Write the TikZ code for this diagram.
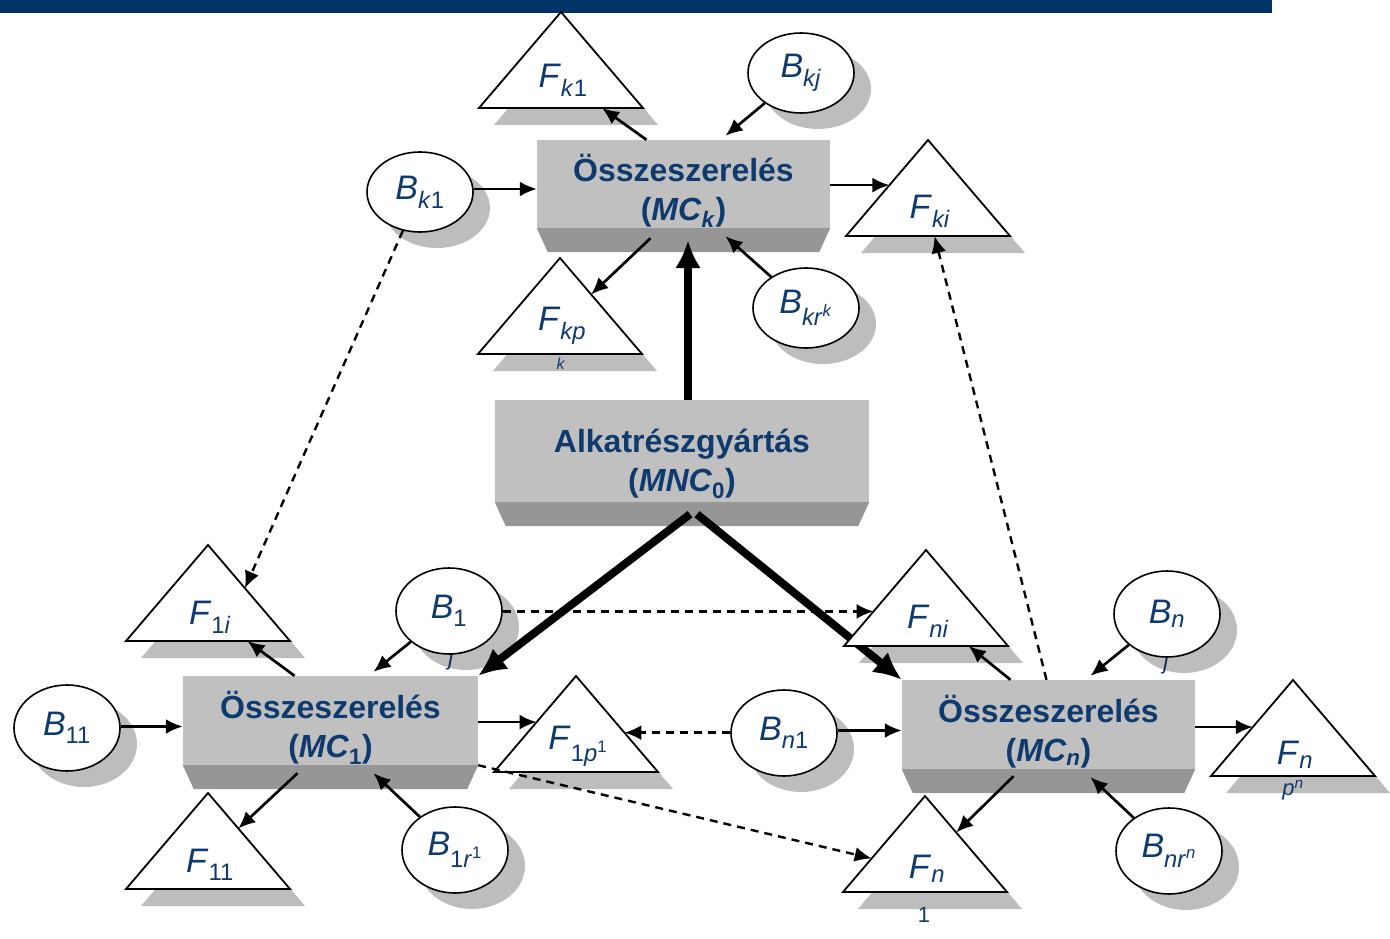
\documentclass[tikz,border=0pt]{standalone}
\usepackage{fontspec}
\setmainfont{Liberation Sans}
\usetikzlibrary{arrows.meta,calc,shapes.geometric,shadows}

\definecolor{navy}{RGB}{0,51,102}
\definecolor{txtblue}{RGB}{14,58,110}
\definecolor{facegray}{RGB}{192,192,192}
\definecolor{bevelgray}{RGB}{150,150,150}

\newcommand\sublbl[2]{\textit{#1}\textsubscript{#2}}

\tikzset{
  assembly/.style={fill=facegray, inner sep=0pt},
  boxtxt/.style={align=center, inner sep=0pt,
    font=\fontsize{32}{39}\selectfont\bfseries, text=txtblue},
  partshadow/.style={drop shadow={shadow xshift=17pt, shadow yshift=-16pt,
    fill=black, opacity=0.26}},
  bnode/.style={ellipse, draw, fill=white, line width=1.6pt, partshadow,
    minimum width=106pt, minimum height=80pt, inner sep=0pt,
    font=\fontsize{34}{40}\selectfont, text=txtblue},
  tri/.style={draw, fill=white, line width=1.8pt, line join=miter,
    drop shadow={shadow xshift=15pt, shadow yshift=-17pt, fill=black, opacity=0.26}},
  lbl/.style={font=\fontsize{34}{40}\selectfont, text=txtblue},
  stray/.style={text=txtblue, inner sep=0pt},
  arr/.style={line width=2.7pt, -{Latex[length=17pt,width=15pt]}},
  dasharr/.style={line width=2.4pt, dash pattern=on 8pt off 6pt,
    -{Latex[length=17pt,width=15pt]}},
  flow/.style={line width=8pt, -{Latex[length=28pt,width=26pt]}},
}

\begin{document}
\begin{tikzpicture}[x=1pt, y=-1pt]
  \useasboundingbox (0,0) rectangle (1390,939);
  \fill[navy] (0,0) rectangle (1272,13);

  % gyartasi egysegek
  \node[assembly, minimum width=293pt, minimum height=88pt] (mck) at (683.5,184) {};
  \node[assembly, minimum width=374pt, minimum height=102pt] (mnc) at (682,451) {};
  \node[assembly, minimum width=295pt, minimum height=89pt] (mc1) at (330.5,720.5) {};
  \node[assembly, minimum width=293pt, minimum height=89pt] (mcn) at (1048.5,724.5) {};
  \foreach \b in {mck,mnc,mc1,mcn}
    \fill[bevelgray] (\b.south west) -- (\b.south east)
      -- ([shift={(-11pt,-24pt)}]\b.south east)
      -- ([shift={(11pt,-24pt)}]\b.south west) -- cycle;

  \node[boxtxt] (mck-t) at ([yshift=-7pt]mck.center)
    {Összeszerelés\\(\textit{MC}\textsubscript{\textit{k}})};
  \node[boxtxt] (mnc-t) at ([yshift=-13pt]mnc.center)
    {Alkatrészgyártás\\(\textit{MNC}\textsubscript{0})};
  \node[boxtxt] (mc1-t) at ([yshift=-7pt]mc1.center)
    {Összeszerelés\\(\textit{MC}\textsubscript{1})};
  \node[boxtxt] (mcn-t) at ([yshift=-7pt]mcn.center)
    {Összeszerelés\\(\textit{MC}\textsubscript{\textit{n}})};

  % anyagaramlas
  \coordinate (upend) at ([shift={(4.5pt,-12pt)}]mck.south);
  \draw[flow] (mnc.north -| upend) -- (upend);
  \draw[flow] ([shift={(8pt,-12pt)}]mnc.south) -- (mc1.north east);
  \draw[flow] ([shift={(15pt,-12pt)}]mnc.south) -- (mcn.north west);

  % F haromszogek
  \foreach \t/\x/\y in {fk1/561/12, fki/928/140, fkp/560/258,
                        f1i/208/545, f1p/576/676, f11/208/793,
                        fni/926/550, fnp/1293/680, fn1/925/796}
    \draw[tri] (\x,\y) coordinate (\t-a) -- ++(82,96) coordinate (\t-r)
      -- ++(-164,0) coordinate (\t-l) -- cycle;

  \node[lbl] (fk1) at ($(fk1-a)+(2,68)$) {\sublbl{F}{\textit{k}1}};
  \node[lbl] (fki) at ($(fki-a)+(2,71)$) {\sublbl{F}{\textit{ki}}};
  \node[lbl] (fkp) at ($(fkp-a)+(2,68)$) {\sublbl{F}{\textit{kp}}};
  \node[lbl] (f1i) at ($(f1i-a)+(2,72)$) {\sublbl{F}{1\textit{i}}};
  \node[lbl] (f1p) at ($(f1p-a)+(2,70)$) {\sublbl{F}{1\textit{p}\textsuperscript{1}}};
  \node[lbl] (f11) at ($(f11-a)+(2,72)$) {\sublbl{F}{11}};
  \node[lbl] (fni) at ($(fni-a)+(2,71)$) {\sublbl{F}{\textit{ni}}};
  \node[lbl] (fnp) at ($(fnp-a)+(2,75)$) {\sublbl{F}{\textit{n}}};
  \node[lbl] (fn1) at ($(fn1-a)+(2,73)$) {\sublbl{F}{\textit{n}}};

  \node[stray, font=\fontsize{16}{18}\selectfont] (kleft) at (561,364) {\textit{k}};
  \node[stray, font=\fontsize{22}{24}\selectfont] (jleft) at (451,660) {\textit{j}};
  \node[stray, font=\fontsize{22}{24}\selectfont] (jright) at (1166,664) {\textit{j}};
  \node[stray, font=\fontsize{22}{24}\selectfont] (pleft) at (1293,790)
    {\textit{p}\textsuperscript{\textit{n}}};
  \node[stray, font=\fontsize{22}{24}\selectfont] (oneleft) at (924,915) {1};

  % B beszallitok
  \node[bnode] (bkj) at (801,73) {\sublbl{B}{\textit{kj}}};
  \node[bnode] (bk1) at (420,192) {\sublbl{B}{\textit{k}1}};
  \node[bnode] (bkr) at (806,308) {\sublbl{B}{\textit{kr}\textsuperscript{\textit{k}}}};
  \node[bnode, minimum height=86pt] (b1j) at (449,611) {\sublbl{B}{1}};
  \node[bnode, minimum height=86pt] (b11) at (67,728) {\sublbl{B}{11}};
  \node[bnode, minimum height=86pt] (b1r) at (455,850) {\sublbl{B}{1\textit{r}\textsuperscript{1}}};
  \node[bnode, minimum height=86pt] (bnj) at (1167,614) {\sublbl{B}{\textit{n}}};
  \node[bnode, minimum height=86pt] (bn1) at (784,733) {\sublbl{B}{\textit{n}1}};
  \node[bnode, minimum height=86pt] (bnr) at (1169,851) {\sublbl{B}{\textit{nr}\textsuperscript{\textit{n}}}};

  % MC_k
  \coordinate (fki-in) at ($(fki-a)!0.47!(fki-l)$);
  \coordinate (mck-in) at ([yshift=-5pt]mck.west);
  \draw[arr] ([xshift=-37pt]mck.north) -- ($(fk1-l)!0.75!(fk1-r)$);
  \draw[arr] (bkj) -- ([shift={(42pt,4pt)}]mck.north);
  \draw[arr] (bk1.east |- mck-in) -- (mck-in);
  \draw[arr] (mck.east |- fki-in) -- (fki-in);
  \draw[arr] ([shift={(-33pt,-10pt)}]mck.south) -- ($(fkp-a)!0.38!(fkp-r)$);
  \draw[arr] (bkr) -- ([shift={(42pt,-8pt)}]mck.south);

  % MC_1
  \coordinate (f1p-in) at ($(f1p-a)!0.48!(f1p-l)$);
  \coordinate (mc1-in) at ([yshift=-6pt]mc1.west);
  \draw[arr] ([xshift=-36pt]mc1.north) -- ($(f1i-l)!0.74!(f1i-r)$);
  \draw[arr] (b1j) -- ([shift={(43pt,4pt)}]mc1.north);
  \draw[arr] (b11.east |- mc1-in) -- (mc1-in);
  \draw[arr] (mc1.east |- f1p-in) -- (f1p-in);
  \draw[arr] ([shift={(-33pt,-8pt)}]mc1.south) -- ($(f11-a)!0.37!(f11-r)$);
  \draw[arr] (b1r) -- ([shift={(43pt,-8pt)}]mc1.south);

  % MC_n
  \coordinate (fnp-in) at ($(fnp-a)!0.49!(fnp-l)$);
  \coordinate (mcn-in) at ([yshift=-6pt]mcn.west);
  \draw[arr] ([xshift=-38pt]mcn.north) -- ($(fni-l)!0.76!(fni-r)$);
  \draw[arr] (bnj) -- ([shift={(42pt,4pt)}]mcn.north);
  \draw[arr] (bn1.east |- mcn-in) -- (mcn-in);
  \draw[arr] (mcn.east |- fnp-in) -- (fnp-in);
  \draw[arr] ([shift={(-35pt,-7pt)}]mcn.south) -- ($(fn1-a)!0.38!(fn1-r)$);
  \draw[arr] (bnr) -- ([shift={(42pt,-8pt)}]mcn.south);

  % kapcsolatok
  \coordinate (fni-in) at ($(fni-a)!0.64!(fni-l)$);
  \coordinate (f1p-back) at ($(f1p-a)!0.59!(f1p-r)$);
  \draw[dasharr] (bk1) -- ($(f1i-a)!0.45!(f1i-r)$);
  \draw[dasharr] (b1j.east |- fni-in) -- (fni-in);
  \draw[dasharr] ([xshift=-2pt]mcn.north) -- ($(fki-l)!0.54!(fki-r)$);
  \draw[dasharr] (bn1.west |- f1p-back) -- (f1p-back);
  \draw[dasharr] (mc1.south east) -- ($(fn1-a)!0.65!(fn1-l)$);
\end{tikzpicture}
\end{document}
